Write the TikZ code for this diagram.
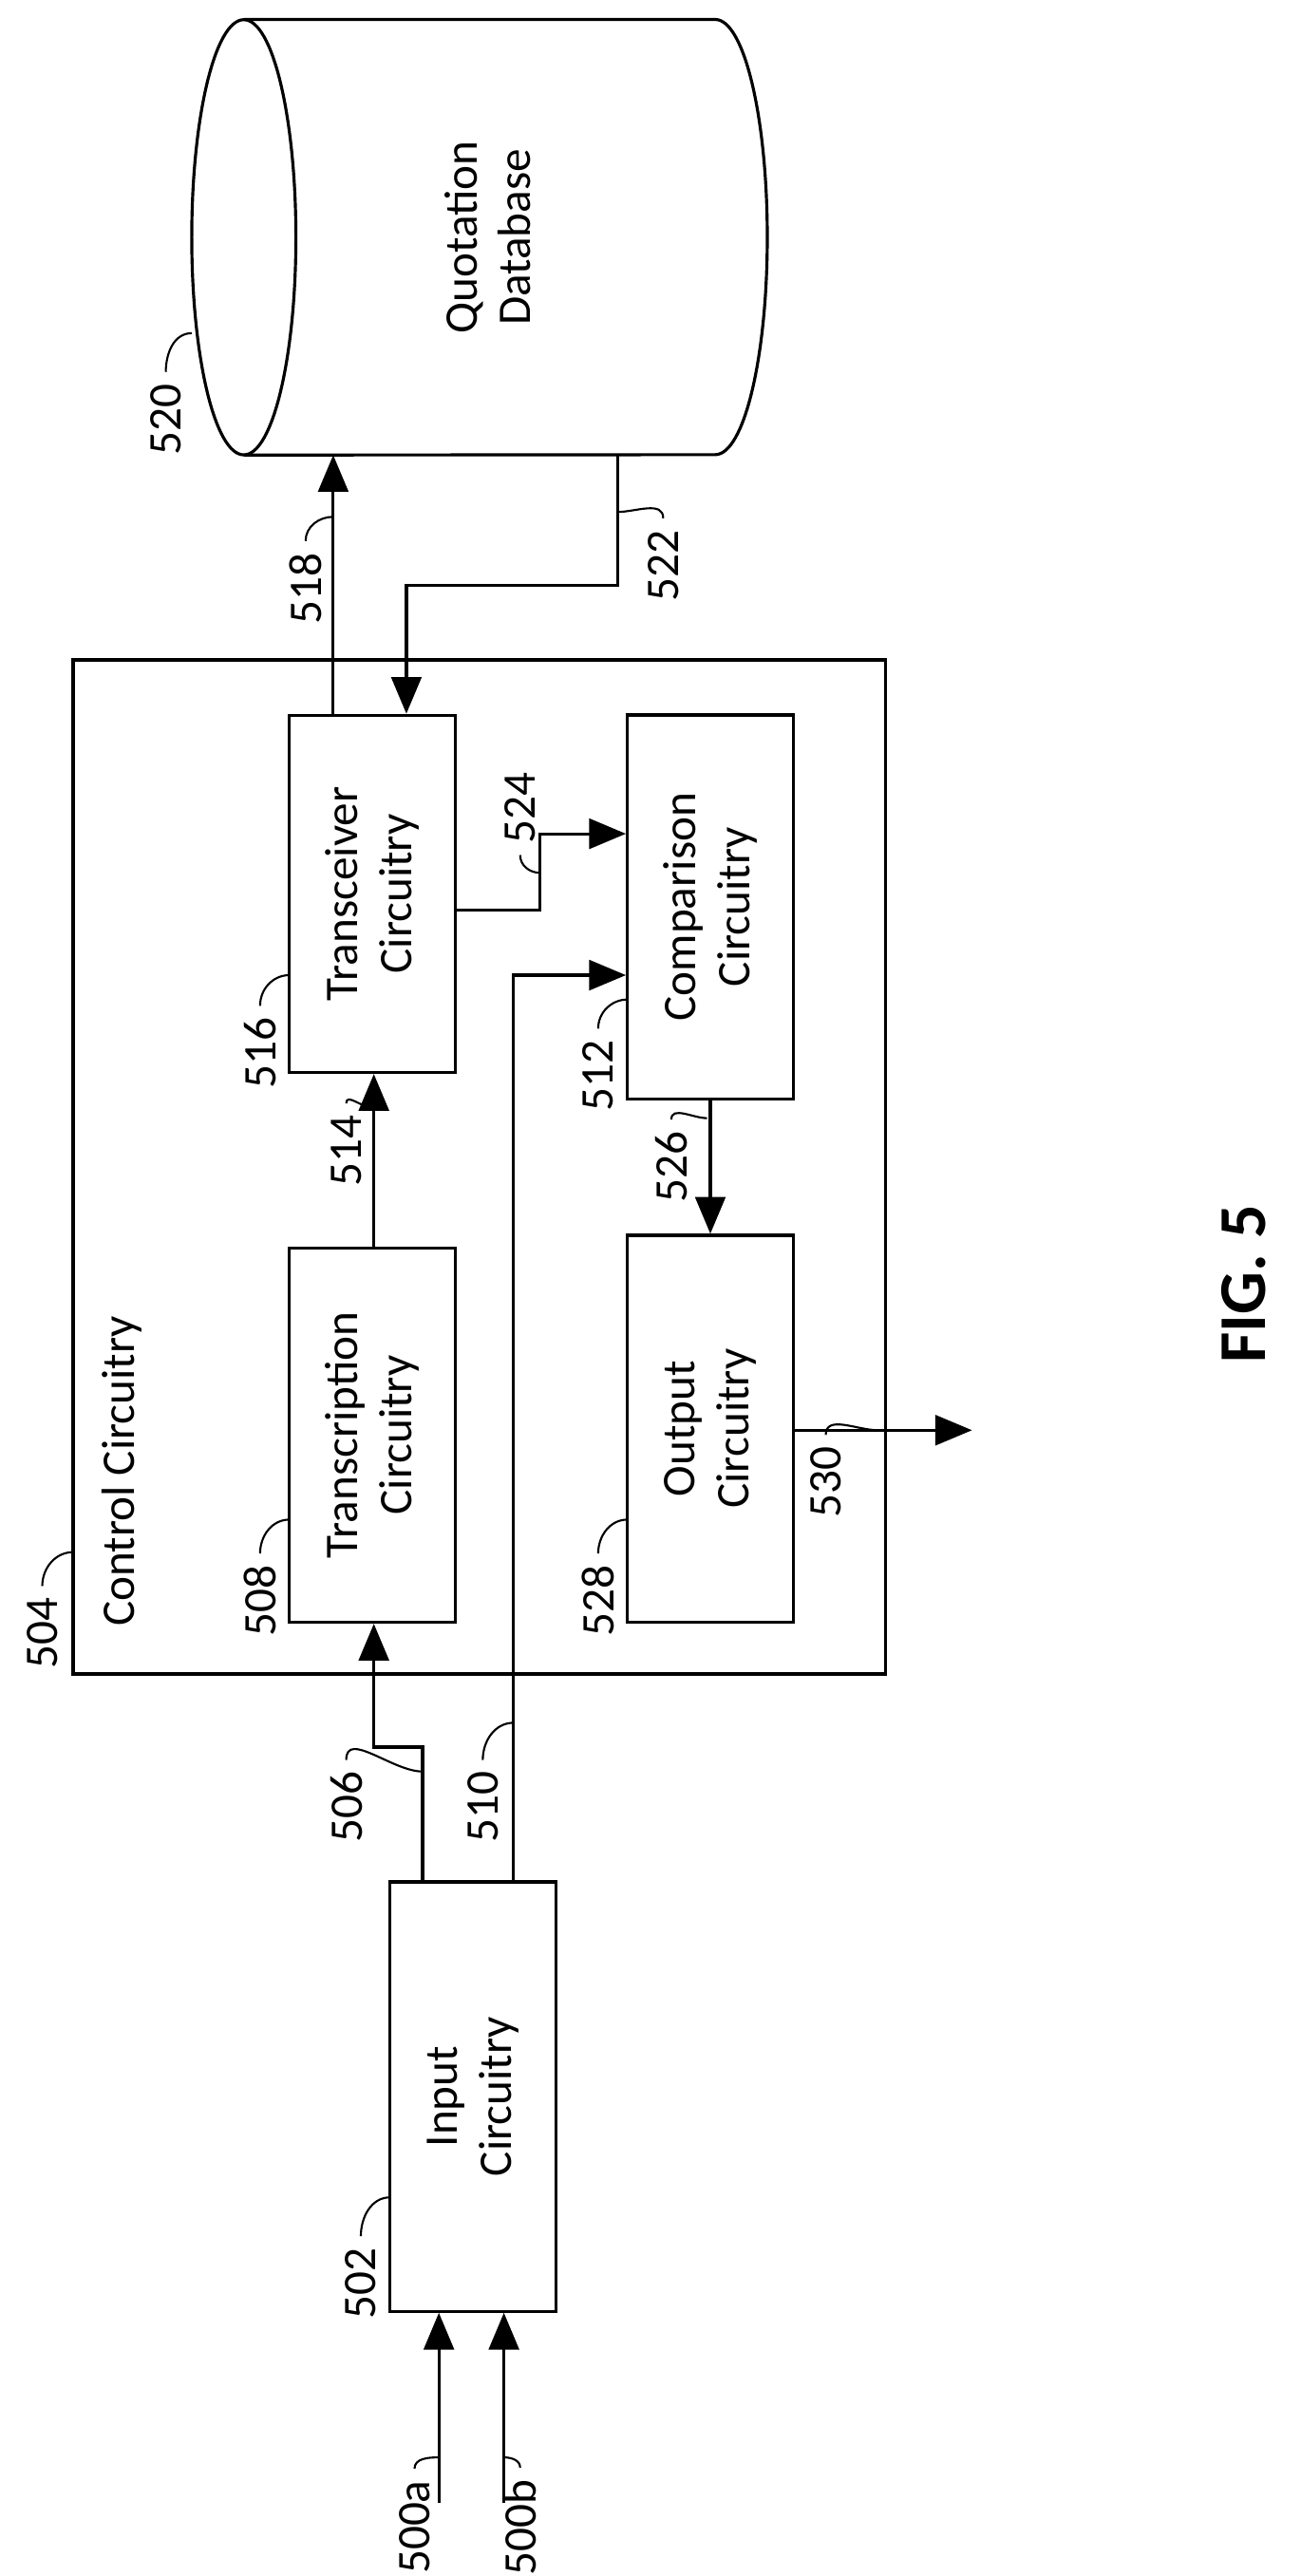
\documentclass[tikz,border=0pt]{standalone}
\usepackage{fontspec}
\setmainfont{Carlito}
\usetikzlibrary{arrows.meta}
\tikzset{
  blk/.style={draw, line width=0.9pt, rotate=90, minimum height=1.745cm, align=center, font=\fontsize{14}{16}\selectfont},
  ref/.style={rotate=90, font=\fontsize{14}{16}\selectfont},
  lead/.style={line width=0.6pt},
  conn/.style={line width=0.9pt, -{Triangle[width=9pt,length=11pt]}}
}
\begin{document}
\begin{tikzpicture}[x={(0.01711cm,0)}, y={(0,-0.01711cm)}]
            \useasboundingbox (0,0) rectangle (800,1585);
            % database
            \draw[line width=0.9pt] (150,146) ellipse [x radius=0.548cm, y radius=2.29cm];
            \draw[line width=0.9pt] (150,12) -- (440,12) arc[start angle=90, end angle=-90, x radius=0.548cm, y radius=2.29cm] -- (150,280);
            \node[ref, align=center] (db) at (300,146) {Quotation\\Database};
            \coordinate (dbbot) at (0,280);

            % control circuitry
            \draw[line width=0.9pt] (45,406) rectangle (545,1030);
            \node[ref, anchor=west] (ctrl) at (75,1008) {Control Circuitry};

            \node[blk, minimum width=3.76cm] (trcv) at (229,550) {Transceiver\\Circuitry};
            \node[blk, minimum width=3.94cm] (trsc) at (229,883) {Transcription\\Circuitry};
            \node[blk, minimum width=4.04cm] (cmp) at (437,558) {Comparison\\Circuitry};
            \node[blk, minimum width=4.07cm] (outp) at (437,879) {Output\\Circuitry};
            \node[blk, minimum width=4.52cm] (inp) at (291,1290) {Input\\Circuitry};

            % connectors
            \coordinate (ina) at (270,1540);
            \coordinate (inb) at (310,1540);
            \draw[conn] (ina) -- (ina |- inp.west);
            \draw[conn] (inb) -- (inb |- inp.west);
            \draw[conn] (260,0 |- inp.east) -- (260,1075) -- (230,1075) -- (230,0 |- trsc.west);
            \draw[conn] (316,0 |- inp.east) -- (316,600) -- (cmp.north |- 0,600);
            \draw[conn] (230,0 |- trsc.east) -- (230,0 |- trcv.west);
            \draw[conn] (205,0 |- trcv.east) -- (205,0 |- dbbot);
            \draw[conn] (380,0 |- dbbot) -- (380,360) -- (250,360) -- (250,0 |- trcv.east);
            \draw[conn] (trcv.south |- 0,560) -- (332,560) -- (332,513) -- (cmp.north |- 0,513);
            \draw[conn] (cmp.west) -- (outp.east);
            \coordinate (out) at (598,880);
            \draw[conn] (outp.south |- out) -- (out);

            % reference numerals
            \node[ref] (l520) at (102,258) {520};
            \draw[lead] (l520.east) to[out=90, in=180] (118,205);
            \node[ref] (l504) at (26,1005) {504};
            \draw[lead] (l504.east) to[out=90, in=180] (45,955);
            \node[ref] (l516) at (160,648) {516};
            \draw[lead] (l516.east) to[out=90, in=180] (178,600);
            \node[ref] (l508) at (160,985) {508};
            \draw[lead] (l508.east) to[out=90, in=180] (178,935);
            \node[ref] (l512) at (368,662) {512};
            \draw[lead] (l512.east) to[out=90, in=180] (386,615);
            \node[ref] (l528) at (368,985) {528};
            \draw[lead] (l528.east) to[out=90, in=180] (386,935);
            \node[ref] (l502) at (222,1405) {502};
            \draw[lead] (l502.east) to[out=90, in=180] (240,1352);
            \node[ref] (l518) at (188,362) {518};
            \draw[lead] (l518.east) to[out=90, in=180] (205,318);
            \node[ref] (l514) at (213,708) {514};
            \draw[lead] (l514.east) to[out=90, in=180] (230,682);
            \node[ref] (l506) at (213,1112) {506};
            \draw[lead] (l506.east) to[out=90, in=180] (260,1090);
            \node[ref] (l510) at (297,1112) {510};
            \draw[lead] (l510.east) to[out=90, in=180] (316,1060);
            \node[ref] (l522) at (408,348) {522};
            \draw[lead] (l522.east) to[out=90, in=0] (380,315);
            \node[ref] (l524) at (320,497) {524};
            \draw[lead] (l524.west) to[out=-90, in=180] (332,537);
            \node[ref] (l526) at (413,718) {526};
            \draw[lead] (l526.east) to[out=90, in=180] (435,688);
            \node[ref] (l530) at (508,912) {530};
            \draw[lead] (l530.east) to[out=90, in=180] (540,880);
            \node[ref] (l500a) at (255,1555) {500a};
            \draw[lead] (l500a.east) to[out=90, in=180] (270,1512);
            \node[ref] (l500b) at (320,1555) {500b};
            \draw[lead] (l500b.east) to[out=90, in=0] (310,1512);

            \node[ref, font=\fontsize{20}{24}\selectfont\bfseries] (fig) at (765,790) {FIG. 5};
        \end{tikzpicture}
\end{document}
